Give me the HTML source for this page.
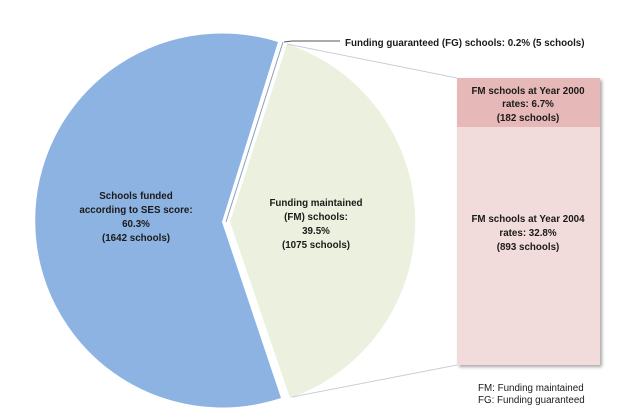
<!DOCTYPE html>
<html><head><style>body{margin:0;background:#fff}svg{display:block}text{font-family:"Liberation Sans",sans-serif;font-weight:bold;font-size:9.8px;fill:#1a1a1a}</style></head>
<body>
<svg width="631" height="415" viewBox="0 0 631 415">
<defs><filter id="sh" x="-10%" y="-10%" width="130%" height="130%"><feDropShadow dx="2" dy="2" stdDeviation="1.5" flood-color="#000" flood-opacity="0.35"/></filter></defs>
<path d="M222,222 L278,42 A187,187 0 1 0 281,398 Z" fill="#8db3e2"/>
<path d="M230,222 L287,44 A187,187 0 0 1 290,398 Z" fill="#ebf1de"/>
<line x1="226" y1="222" x2="283" y2="42" stroke="#8aa0c0" stroke-width="1"/>
<line x1="287" y1="44" x2="457" y2="78" stroke="#c8cfd8" stroke-width="1"/>
<line x1="292" y1="397" x2="457" y2="365" stroke="#c8cfd8" stroke-width="1"/>
<polyline points="284,42 292,41 340,41" fill="none" stroke="#555" stroke-width="1"/>
<g filter="url(#sh)">
<rect x="457" y="78" width="143" height="287" fill="#f2dcdb"/>
</g>
<rect x="457" y="78" width="143" height="49" fill="#e6b9b8"/>
<text x="345" y="46">Funding guaranteed (FG) schools: 0.2% (5 schools)</text>
<g text-anchor="middle">
<text x="528" y="94">FM schools at Year 2000</text>
<text x="528" y="107">rates: 6.7%</text>
<text x="528" y="121">(182 schools)</text>
<text x="528" y="222">FM schools at Year 2004</text>
<text x="528" y="236">rates: 32.8%</text>
<text x="528" y="250">(893 schools)</text>
<text x="316" y="206">Funding maintained</text>
<text x="316" y="220">(FM) schools:</text>
<text x="316" y="234">39.5%</text>
<text x="316" y="248">(1075 schools)</text>
<text x="136" y="199">Schools funded</text>
<text x="136" y="213">according to SES score:</text>
<text x="136" y="227">60.3%</text>
<text x="136" y="241">(1642 schools)</text>
</g>
<text x="478" y="391" style="font-weight:normal;font-size:9.8px">FM: Funding maintained</text>
<text x="478" y="403" style="font-weight:normal;font-size:9.8px">FG: Funding guaranteed</text>
</svg>
</body></html>
